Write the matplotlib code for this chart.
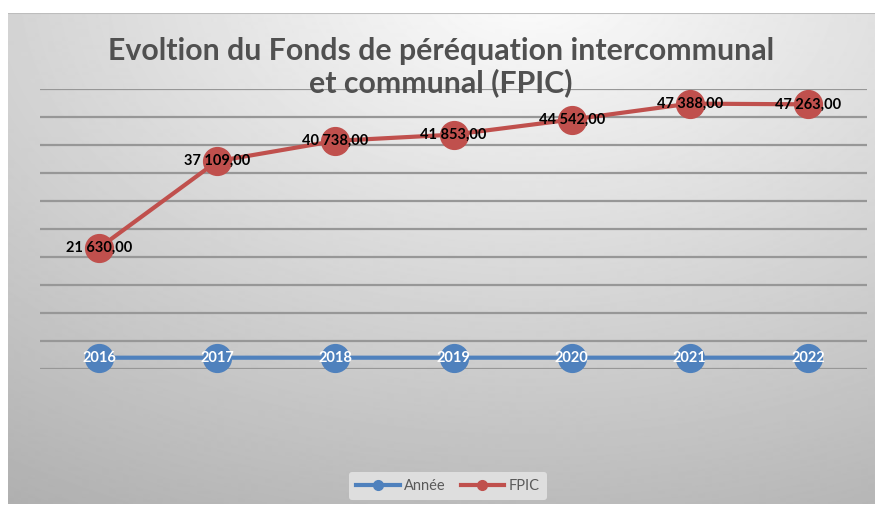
import numpy as np
import matplotlib
matplotlib.use('Agg')
import matplotlib.pyplot as plt
from matplotlib.lines import Line2D

years = ['2016', '2017', '2018', '2019', '2020', '2021', '2022']
annee = [2016, 2017, 2018, 2019, 2020, 2021, 2022]
fpic = [21630, 37109, 40738, 41853, 44542, 47388, 47263]
fpic_labels = ['21 630,00', '37 109,00', '40 738,00', '41 853,00',
               '44 542,00', '47 388,00', '47 263,00']

blue = '#4f81bd'
red = '#c0504d'
txt_gray = '#595959'

plt.rcParams['font.family'] = ['Lato', 'DejaVu Sans']

W, H = 875, 505
fig = plt.figure(figsize=(W / 100, H / 100), dpi=100)
fig.patch.set_facecolor('white')

# gradient background of the chart area
bg = fig.add_axes([8 / W, 0, (W - 8) / W, (H - 13) / H])
gw, gh = W - 8, H - 13
xx, yy = np.meshgrid(np.arange(gw), np.arange(gh))
d = np.sqrt(((xx - 0.6 * gw) / gw) ** 2 + ((yy + 0.05 * gh) / gh * 0.9) ** 2)
img = np.clip(0.99 - 0.27 * d, 0, 1)
bg.imshow(img, cmap='gray', vmin=0, vmax=1, aspect='auto', interpolation='bilinear')
bg.axis('off')
bg.plot([0, gw], [0, 0], color='#bdbdbd', lw=1.5)
bg.set_xlim(0, gw)
bg.set_ylim(gh, 0)

ax = fig.add_axes([40 / W, (H - 369) / H, (867 - 40) / W, (369 - 89) / H])
ax.set_facecolor('none')
x = np.arange(len(years))
ax.set_xlim(-0.5, len(years) - 0.5)
ax.set_ylim(0, 50000)
ax.set_yticks(np.arange(0, 50001, 5000))
ax.grid(axis='y', color='#979797', lw=1.6)
ax.tick_params(left=False, bottom=False, labelleft=False, labelbottom=False)
for s in ax.spines.values():
    s.set_visible(False)

ax.plot(x, annee, color=blue, lw=3, marker='o', ms=20, clip_on=False, zorder=3)
ax.plot(x, fpic, color=red, lw=3, marker='o', ms=20, clip_on=False, zorder=3)

for i in range(len(years)):
    ax.text(x[i], annee[i], years[i], ha='center', va='center', color='white',
            fontsize=10.5, fontweight='bold', zorder=5)
    ax.text(x[i], fpic[i], fpic_labels[i], ha='center', va='center', color='black',
            fontsize=10.5, fontweight='bold', zorder=5)

fig.text(441 / W, 1 - 67 / H, 'Evoltion du Fonds de péréquation intercommunal\net communal (FPIC)',
         ha='center', va='center', fontsize=21.8, fontweight='bold', color='#505050',
         linespacing=1.1)

handles = [Line2D([], [], color=blue, lw=3, marker='o', ms=7),
           Line2D([], [], color=red, lw=3, marker='o', ms=7)]
leg = fig.legend(handles, ['Année', 'FPIC'], loc='center', ncol=2,
                 bbox_to_anchor=(448 / W, 1 - 486 / H), frameon=True,
                 fontsize=10.5, handlelength=3, columnspacing=1.0, handletextpad=0.3,
                 borderpad=0.5)
leg.get_frame().set_facecolor('#dedede')
leg.get_frame().set_edgecolor('none')
leg.get_frame().set_alpha(1)
for t in leg.get_texts():
    t.set_color(txt_gray)

fig.savefig('out.png', dpi=100)
